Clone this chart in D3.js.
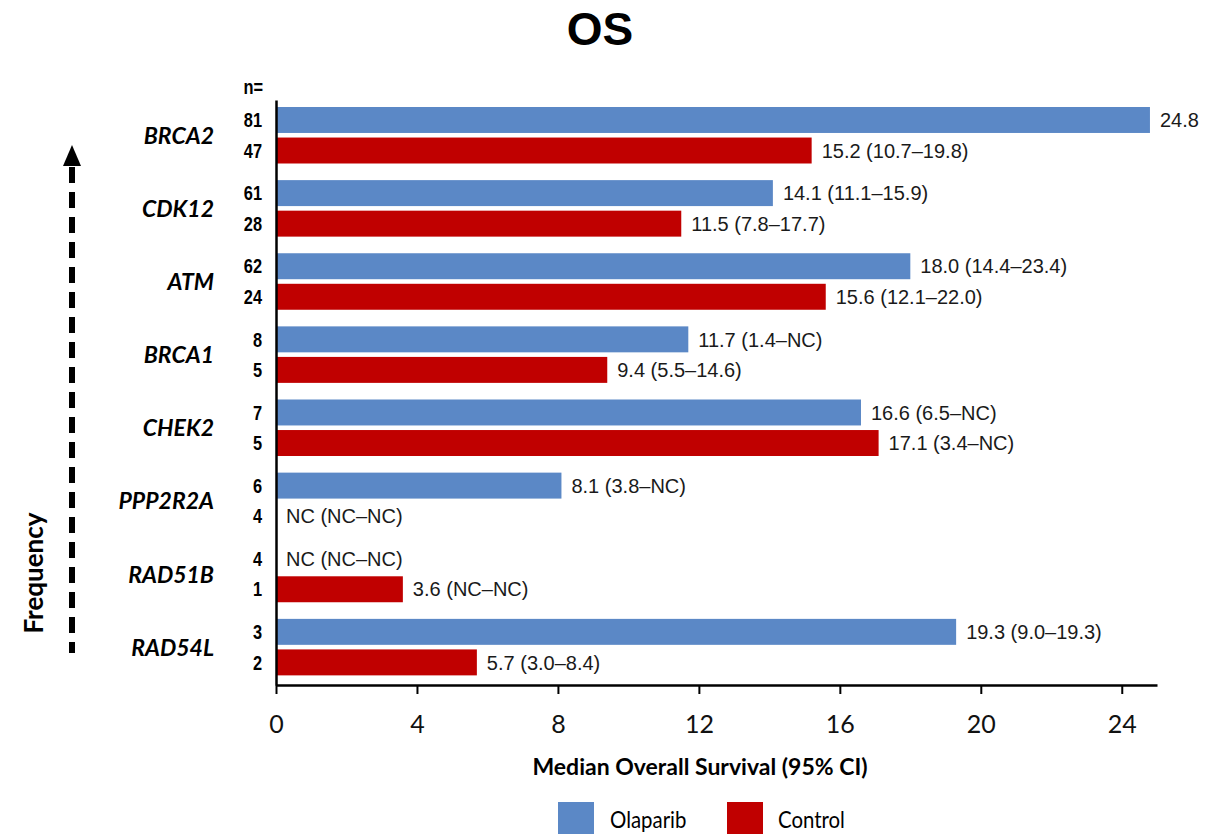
<!DOCTYPE html>
<html>
<head>
<meta charset="utf-8">
<script src="https://cdn.jsdelivr.net/npm/d3@7"></script>
<style>
  html, body { margin: 0; padding: 0; background: #fff; }
  svg { display: block; }
</style>
</head>
<body>
<svg id="chart" width="1225" height="834"></svg>
<script>
// Genes, ordered by mutation frequency (most frequent on top)
const genes = ["BRCA2", "CDK12", "ATM", "BRCA1", "CHEK2", "PPP2R2A", "RAD51B", "RAD54L"];
const seriesNames = ["Olaparib", "Control"];

// Patients per arm
const olaparibN = [81, 61, 62, 8, 7, 6, 4, 3];
const controlN = [47, 28, 24, 5, 5, 4, 1, 2];

// Median overall survival in months (null = not calculable)
const olaparibOS = [24.8, 14.1, 18.0, 11.7, 16.6, 8.1, null, 19.3];
const controlOS = [15.2, 11.5, 15.6, 9.4, 17.1, null, 3.6, 5.7];

// Median (95% CI) labels
const olaparibLabels = ["24.8", "14.1 (11.1\u201315.9)", "18.0 (14.4\u201323.4)", "11.7 (1.4\u2013NC)",
  "16.6 (6.5\u2013NC)", "8.1 (3.8\u2013NC)", "NC (NC\u2013NC)", "19.3 (9.0\u201319.3)"];
const controlLabels = ["15.2 (10.7\u201319.8)", "11.5 (7.8\u201317.7)", "15.6 (12.1\u201322.0)", "9.4 (5.5\u201314.6)",
  "17.1 (3.4\u2013NC)", "NC (NC\u2013NC)", "3.6 (NC\u2013NC)", "5.7 (3.0\u20138.4)"];

const xTicks = [0, 4, 8, 12, 16, 20, 24];

const colors = { Olaparib: "#5b88c6", Control: "#c00000" };

const svg = d3.select("#chart");

const plot = { left: 276, right: 1157, top: 100, bottom: 685 };

const x = d3.scaleLinear().domain([0, 25]).range([plot.left, plot.right]);
const y = d3.scaleBand().domain(genes).range([plot.top, plot.bottom]).paddingInner(0).paddingOuter(0);
const ySub = d3.scaleBand().domain(seriesNames).range([7, 63.5]).paddingInner(0.15);

const rows = genes.map((g, i) => ({
  gene: g,
  arms: [
    { series: "Olaparib", n: olaparibN[i], value: olaparibOS[i], label: olaparibLabels[i] },
    { series: "Control", n: controlN[i], value: controlOS[i], label: controlLabels[i] }
  ]
}));

// Title
svg.append("text")
  .attr("x", 600).attr("y", 45)
  .attr("text-anchor", "middle")
  .style("font-family", "'Liberation Sans', Arial, sans-serif")
  .style("font-weight", "bold")
  .style("font-size", "46px")
  .text("OS");

// Gene groups
const groups = svg.append("g").selectAll("g.gene")
  .data(rows).join("g")
  .attr("class", "gene")
  .attr("transform", d => `translate(0,${y(d.gene)})`);

groups.append("text")
  .attr("x", 214)
  .attr("y", y.bandwidth() / 2 - 1)
  .attr("dy", "0.36em")
  .attr("text-anchor", "end")
  .style("font-family", "Lato, 'Open Sans', sans-serif")
  .style("font-weight", "bold")
  .style("font-style", "italic")
  .style("font-size", "23px")
  .text(d => d.gene);

const arms = groups.selectAll("g.arm")
  .data(d => d.arms).join("g")
  .attr("class", "arm")
  .attr("transform", d => `translate(0,${ySub(d.series)})`);

arms.filter(d => d.value != null).append("rect")
  .attr("x", x(0))
  .attr("y", 0)
  .attr("width", d => x(d.value) - x(0))
  .attr("height", ySub.bandwidth())
  .attr("fill", d => colors[d.series]);

// Median (95% CI) labels
arms.append("text")
  .attr("x", d => (d.value != null ? x(d.value) : x(0)) + 10)
  .attr("y", ySub.bandwidth() / 2)
  .attr("dy", "0.36em")
  .style("font-family", "'Liberation Sans', Arial, sans-serif")
  .style("font-size", "20px")
  .style("fill", "#1a1a1a")
  .text(d => d.label);

// Patient counts
arms.append("text")
  .attr("transform", `translate(262,${ySub.bandwidth() / 2}) scale(0.82,1)`)
  .attr("dy", "0.36em")
  .attr("text-anchor", "end")
  .style("font-family", "'Liberation Sans', Arial, sans-serif")
  .style("font-weight", "bold")
  .style("font-size", "20px")
  .text(d => d.n);

svg.append("text")
  .attr("transform", "translate(263,94) scale(0.82,1)")
  .attr("text-anchor", "end")
  .style("font-family", "'Liberation Sans', Arial, sans-serif")
  .style("font-weight", "bold")
  .style("font-size", "20px")
  .text("n=");

// Axes
const yAxis = svg.append("g")
  .attr("transform", `translate(${plot.left},0)`)
  .call(d3.axisLeft(y).tickValues([]).tickSizeOuter(0));
yAxis.select(".domain").attr("stroke", "#000").attr("stroke-width", 2.5);

const xAxis = svg.append("g")
  .attr("transform", `translate(0,${plot.bottom})`)
  .call(d3.axisBottom(x).tickValues(xTicks).tickSize(9).tickSizeOuter(0).tickPadding(21));
xAxis.select(".domain").attr("stroke", "#000").attr("stroke-width", 2.5);
xAxis.selectAll(".tick line").attr("stroke", "#000").attr("stroke-width", 2);
xAxis.selectAll(".tick text")
  .attr("fill", "#111")
  .style("font-family", "Lato, 'Open Sans', sans-serif")
  .style("font-size", "25px");

svg.append("text")
  .attr("x", 700).attr("y", 775)
  .attr("text-anchor", "middle")
  .style("font-family", "Lato, 'Open Sans', sans-serif")
  .style("font-weight", "bold")
  .style("font-size", "23px")
  .text("Median Overall Survival (95% CI)");

// Frequency arrow
svg.append("line")
  .attr("x1", 72).attr("y1", 167).attr("x2", 72).attr("y2", 653)
  .attr("stroke", "#000").attr("stroke-width", 6)
  .attr("stroke-dasharray", "16 9");
svg.append("path")
  .attr("d", d3.line()([[72, 145], [63, 166], [81, 166]]) + "Z")
  .attr("fill", "#000");

svg.append("text")
  .attr("transform", "translate(43,573) rotate(-90)")
  .attr("text-anchor", "middle")
  .style("font-family", "Lato, 'Open Sans', sans-serif")
  .style("font-weight", "bold")
  .style("font-size", "26px")
  .text("Frequency");

// Legend
const legendPos = [{ x: 558, tx: 610 }, { x: 727, tx: 778 }];
const legend = svg.append("g").selectAll("g")
  .data(seriesNames).join("g")
  .attr("transform", (d, i) => `translate(${legendPos[i].x},802)`);
legend.append("rect")
  .attr("width", 36).attr("height", 34)
  .attr("fill", d => colors[d]);
legend.append("text")
  .attr("transform", (d, i) => `translate(${legendPos[i].tx - legendPos[i].x},26) scale(0.85,1)`)
  .style("font-family", "Lato, 'Open Sans', sans-serif")
  .style("font-size", "24px")
  .text(d => d);
</script>
</body>
</html>
